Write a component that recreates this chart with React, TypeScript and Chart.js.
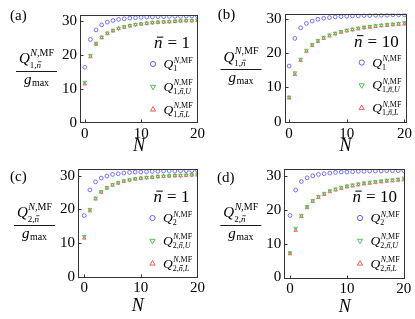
import React, { useEffect, useRef } from "react";
import { Chart, registerables } from "chart.js";

Chart.register(...registerables);

// ---------- data ----------
const N_VALUES = [0, 1, 2, 3, 4, 5, 6, 7, 8, 9, 10, 11, 12, 13, 14, 15, 16, 17, 18, 19, 20];
const X_TICKS = [0, 10, 20];
const Y_TICKS = [0, 10, 20, 30];

// (a) Q1, nbar = 1
const A_MF = [16.4, 24.6, 27.4, 28.9, 29.7, 30.2, 30.5, 30.7, 30.9, 31.0, 31.1, 31.2, 31.2, 31.3, 31.3, 31.4, 31.4, 31.4, 31.5, 31.5, 31.5];
const A_U = [12.0, 19.9, 23.5, 25.3, 26.5, 27.3, 27.9, 28.4, 28.7, 29.0, 29.2, 29.4, 29.6, 29.7, 29.8, 29.9, 30.0, 30.1, 30.2, 30.2, 30.3];
const A_L = [11.5, 19.5, 23.2, 25.1, 26.3, 27.1, 27.8, 28.2, 28.6, 28.9, 29.1, 29.3, 29.5, 29.6, 29.7, 29.8, 29.9, 30.0, 30.1, 30.1, 30.2];
// (b) Q1, nbar = 10
const B_MF = [16.3, 24.4, 27.5, 28.8, 29.5, 30.0, 30.3, 30.5, 30.7, 30.8, 30.9, 31.0, 31.0, 31.1, 31.1, 31.2, 31.2, 31.2, 31.3, 31.3, 31.3];
const B_U = [7.2, 14.3, 18.3, 20.9, 22.6, 23.8, 24.7, 25.4, 25.9, 26.4, 26.8, 27.1, 27.4, 27.7, 27.9, 28.1, 28.3, 28.5, 28.6, 28.8, 29.0];
const B_L = [6.9, 13.8, 17.9, 20.6, 22.3, 23.5, 24.4, 25.1, 25.7, 26.2, 26.6, 26.9, 27.2, 27.5, 27.7, 27.9, 28.1, 28.2, 28.4, 28.5, 28.6];
// (c) Q2, nbar = 1
const C_MF = [18.2, 25.8, 28.2, 29.3, 29.9, 30.4, 30.6, 30.8, 31.0, 31.1, 31.1, 31.2, 31.3, 31.3, 31.4, 31.4, 31.4, 31.5, 31.5, 31.5, 31.5];
const C_U = [12.0, 20.0, 23.4, 25.3, 26.5, 27.4, 28.0, 28.5, 28.8, 29.1, 29.3, 29.5, 29.6, 29.8, 29.9, 30.0, 30.1, 30.1, 30.2, 30.3, 30.3];
const C_L = [11.5, 19.6, 23.1, 25.1, 26.3, 27.2, 27.8, 28.3, 28.7, 29.0, 29.2, 29.4, 29.5, 29.7, 29.8, 29.9, 30.0, 30.0, 30.1, 30.2, 30.2];
// (d) Q2, nbar = 10
const D_MF = [18.3, 25.8, 28.3, 29.4, 30.0, 30.4, 30.6, 30.8, 31.0, 31.1, 31.1, 31.2, 31.3, 31.3, 31.4, 31.4, 31.4, 31.5, 31.5, 31.5, 31.5];
const D_U = [7.3, 14.5, 18.3, 20.9, 22.7, 23.9, 24.8, 25.6, 26.1, 26.6, 27.0, 27.3, 27.6, 27.9, 28.1, 28.3, 28.5, 28.7, 28.8, 29.0, 29.3];
const D_L = [7.0, 13.9, 18.0, 20.6, 22.4, 23.6, 24.5, 25.3, 25.8, 26.3, 26.7, 27.0, 27.3, 27.6, 27.8, 28.0, 28.2, 28.4, 28.5, 28.7, 28.8];

const BLUE = "#5252f2";
const GREEN = "#3dba3d";
const RED = "#f24c4c";
const FONT = '"Liberation Serif", "Times New Roman", serif';
const Y_AXIS_W = 30;
const X_AXIS_H = 20;

type Part = { t: string; i?: boolean; bar?: boolean };

type PanelDef = {
  key: string;
  tag: string;
  qi: string;
  nbar: string;
  mf: number[];
  upper: number[];
  lower: number[];
  box: { left: number; top: number; width: number; height: number };
  area: { left: number; top: number; right: number; bottom: number };
  xr: [number, number];
  yr: [number, number];
  tagPos: [number, number];
  nTitleOffset: number;
};

const PANELS: PanelDef[] = [
  {
    key: "a", tag: "(a)", qi: "1", nbar: "1", mf: A_MF, upper: A_U, lower: A_L,
    box: { left: 0, top: 0, width: 207, height: 157 },
    area: { left: 80, top: 15, right: 8, bottom: 34 },
    xr: [-0.85, 20.1], yr: [0, 31.8], tagPos: [10, 16], nTitleOffset: 23.5,
  },
  {
    key: "b", tag: "(b)", qi: "1", nbar: "10", mf: B_MF, upper: B_U, lower: B_L,
    box: { left: 205, top: 0, width: 210, height: 157 },
    area: { left: 79.5, top: 13.5, right: 8.3, bottom: 33.7 },
    xr: [-0.8, 20.4], yr: [-0.5, 31.7], tagPos: [12.7, 15], nTitleOffset: 23,
  },
  {
    key: "c", tag: "(c)", qi: "2", nbar: "1", mf: C_MF, upper: C_U, lower: C_L,
    box: { left: 0, top: 155, width: 207, height: 164 },
    area: { left: 78, top: 14, right: 8, bottom: 41.5 },
    xr: [-1.1, 20.0], yr: [-0.15, 32.0], tagPos: [10, 22.5], nTitleOffset: 29,
  },
  {
    key: "d", tag: "(d)", qi: "2", nbar: "10", mf: D_MF, upper: D_U, lower: D_L,
    box: { left: 205, top: 155, width: 210, height: 164 },
    area: { left: 79.3, top: 14, right: 10, bottom: 40.5 },
    xr: [-1.0, 20.2], yr: [-0.3, 32.0], tagPos: [12, 23.3], nTitleOffset: 28.5,
  },
];

function setFont(ctx: CanvasRenderingContext2D, size: number, italic?: boolean) {
  ctx.font = `${italic ? "italic " : ""}${size}px ${FONT}`;
}

function runWidth(ctx: CanvasRenderingContext2D, size: number, parts: Part[]) {
  let w = 0;
  for (const p of parts) {
    setFont(ctx, size, p.i);
    w += ctx.measureText(p.t).width;
  }
  return w;
}

function drawRun(ctx: CanvasRenderingContext2D, x: number, y: number, size: number, parts: Part[]) {
  let cx = x;
  ctx.textAlign = "left";
  ctx.textBaseline = "alphabetic";
  for (const p of parts) {
    setFont(ctx, size, p.i);
    const w = ctx.measureText(p.t).width;
    ctx.fillText(p.t, cx, y);
    if (p.bar) {
      const by = y - size * 0.64;
      ctx.save();
      ctx.lineWidth = Math.max(0.7, size * 0.06);
      ctx.strokeStyle = "#000";
      ctx.beginPath();
      ctx.moveTo(cx + w * 0.22 + size * 0.06, by);
      ctx.lineTo(cx + w * 0.98 + size * 0.06, by);
      ctx.stroke();
      ctx.restore();
    }
    cx += w;
  }
  return cx - x;
}

function drawMarker(ctx: CanvasRenderingContext2D, kind: string, x: number, y: number, r: number, color: string) {
  ctx.save();
  ctx.strokeStyle = color;
  ctx.lineWidth = 0.9;
  ctx.beginPath();
  if (kind === "circle") {
    ctx.arc(x, y, r, 0, Math.PI * 2);
  } else {
    const s = kind === "up" ? 1 : -1;
    ctx.moveTo(x, y - s * r);
    ctx.lineTo(x + r * 0.866, y + s * r * 0.5);
    ctx.lineTo(x - r * 0.866, y + s * r * 0.5);
    ctx.closePath();
  }
  ctx.stroke();
  ctx.restore();
}

function makeOverlay(p: PanelDef) {
  return {
    id: "overlay_" + p.key,
    afterDraw(chart: any) {
      const ctx: CanvasRenderingContext2D = chart.ctx;
      const a = chart.chartArea;
      const xs = chart.scales.x;
      const ys = chart.scales.y;
      ctx.save();
      ctx.fillStyle = "#000";

      // frame
      const L = Math.round(a.left) + 0.5;
      const R = Math.round(a.right) - 0.5;
      const T = Math.round(a.top) + 0.5;
      const B = Math.round(a.bottom) - 0.5;
      ctx.strokeStyle = "#333";
      ctx.lineWidth = 1;
      ctx.strokeRect(L, T, R - L, B - T);
      // inward ticks
      ctx.beginPath();
      Y_TICKS.forEach((v) => {
        const y = Math.round(ys.getPixelForValue(v)) + 0.5;
        if (y > T + 1 && y < B - 1) {
          ctx.moveTo(L, y);
          ctx.lineTo(L + 3, y);
        }
      });
      X_TICKS.forEach((v) => {
        const x = Math.round(xs.getPixelForValue(v)) + 0.5;
        if (x > L + 1 && x < R - 1) {
          ctx.moveTo(x, B);
          ctx.lineTo(x, B - 3);
        }
      });
      ctx.stroke();

      // panel tag
      setFont(ctx, 15, false);
      ctx.textAlign = "left";
      ctx.textBaseline = "middle";
      ctx.fillText(p.tag, p.tagPos[0], p.tagPos[1]);

      // x title
      setFont(ctx, 18, true);
      ctx.textAlign = "center";
      ctx.textBaseline = "middle";
      ctx.fillText("N", (a.left + a.right) / 2, a.bottom + p.nTitleOffset);

      // y title fraction
      const cx = a.left - 43.5;
      const lineY = Math.round(a.top + 55.5) + 0.5;
      ctx.strokeStyle = "#000";
      ctx.lineWidth = 0.9;
      ctx.beginPath();
      ctx.moveTo(a.left - 64, lineY);
      ctx.lineTo(a.left - 23, lineY);
      ctx.stroke();
      const supParts: Part[] = [{ t: "N", i: true }, { t: ",MF" }];
      const subParts: Part[] = [{ t: p.qi + "," }, { t: "n", i: true, bar: true }];
      setFont(ctx, 15, true);
      const wQ = ctx.measureText("Q").width;
      const wSup = runWidth(ctx, 10, supParts);
      const numW = wQ + wSup + 0.5;
      const qx = cx - numW / 2;
      drawRun(ctx, qx, a.top + 48.3, 15, [{ t: "Q", i: true }]);
      drawRun(ctx, qx + wQ + 0.5, a.top + 40.5, 10, supParts);
      drawRun(ctx, qx + wQ, a.top + 52.5, 9, subParts);
      setFont(ctx, 15, true);
      const wg = ctx.measureText("g").width;
      const wmax = runWidth(ctx, 10, [{ t: "max" }]);
      const gx = cx - (wg + wmax + 0.5) / 2;
      drawRun(ctx, gx, a.top + 68.5, 15, [{ t: "g", i: true }]);
      drawRun(ctx, gx + wg + 0.5, a.top + 70.5, 10, [{ t: "max" }]);

      // nbar label
      const nbY = a.top + 33;
      const rightEdge = a.right - 8;
      setFont(ctx, 17, false);
      const wNum = ctx.measureText(p.nbar).width;
      const wEq = ctx.measureText("=").width;
      setFont(ctx, 17, true);
      const wn = ctx.measureText("n").width;
      const numX = rightEdge - wNum;
      const eqX = numX - 4.5 - wEq;
      const nX = eqX - 5 - wn;
      drawRun(ctx, nX, nbY, 17, [{ t: "n", i: true, bar: true }]);
      drawRun(ctx, eqX, nbY, 17, [{ t: "=" }]);
      drawRun(ctx, numX, nbY, 17, [{ t: p.nbar }]);

      // legend
      const mx = a.right - 45;
      const rows: { kind: string; color: string; sub: Part[] }[] = [
        { kind: "circle", color: BLUE, sub: [{ t: p.qi }] },
        { kind: "down", color: GREEN, sub: [{ t: p.qi + "," }, { t: "n", i: true, bar: true }, { t: "," }, { t: "U", i: true }] },
        { kind: "up", color: RED, sub: [{ t: p.qi + "," }, { t: "n", i: true, bar: true }, { t: "," }, { t: "L", i: true }] },
      ];
      rows.forEach((row, i) => {
        const my = a.top + 49 + i * 22.8;
        drawMarker(ctx, row.kind, mx, my, row.kind === "circle" ? 2.6 : 3, row.color);
        const tx = mx + 10.5;
        setFont(ctx, 13.5, true);
        const wq = ctx.measureText("Q").width;
        drawRun(ctx, tx, my + 4, 13.5, [{ t: "Q", i: true }]);
        drawRun(ctx, tx + wq + 0.5, my - 1.5, 8, supParts);
        drawRun(ctx, tx + wq, my + 7, 8, row.sub);
      });

      ctx.restore();
    },
  };
}

function Panel({ p }: { p: PanelDef }) {
  const ref = useRef<HTMLCanvasElement | null>(null);
  useEffect(() => {
    if (!ref.current) return;
    const toPts = (arr: number[]) => N_VALUES.map((n, i) => ({ x: n, y: arr[i] }));
    const tickFont = { family: FONT, size: 15 };
    const pad = {
      left: p.area.left - Y_AXIS_W,
      top: p.area.top,
      right: p.area.right,
      bottom: p.area.bottom - X_AXIS_H,
    };
    const chart = new Chart(ref.current, {
      type: "scatter",
      data: {
        datasets: [
          {
            data: toPts(p.mf),
            pointStyle: "circle",
            pointRadius: 1.9,
            borderColor: BLUE,
            backgroundColor: "rgba(0,0,0,0)",
            borderWidth: 0.8,
          },
          {
            data: toPts(p.upper),
            pointStyle: "triangle",
            rotation: 180,
            pointRadius: 2.1,
            borderColor: GREEN,
            backgroundColor: "rgba(0,0,0,0)",
            borderWidth: 0.8,
          },
          {
            data: toPts(p.lower),
            pointStyle: "triangle",
            pointRadius: 2.1,
            borderColor: RED,
            backgroundColor: "rgba(0,0,0,0)",
            borderWidth: 0.8,
          },
        ],
      } as any,
      options: {
        responsive: false,
        animation: false,
        devicePixelRatio: 1,
        layout: { padding: pad },
        plugins: { legend: { display: false }, tooltip: { enabled: false } },
        events: [],
        scales: {
          x: {
            type: "linear",
            min: p.xr[0],
            max: p.xr[1],
            grid: { display: false, drawTicks: false },
            border: { display: false },
            ticks: { font: tickFont, color: "#000", padding: 2, maxRotation: 0, autoSkip: false },
            afterBuildTicks: (s: any) => {
              s.ticks = X_TICKS.map((v) => ({ value: v }));
            },
            afterFit: (s: any) => {
              s.height = X_AXIS_H;
            },
          },
          y: {
            type: "linear",
            min: p.yr[0],
            max: p.yr[1],
            grid: { display: false, drawTicks: false },
            border: { display: false },
            ticks: { font: tickFont, color: "#000", padding: 3, autoSkip: false },
            afterBuildTicks: (s: any) => {
              s.ticks = Y_TICKS.map((v) => ({ value: v }));
            },
            afterFit: (s: any) => {
              s.width = Y_AXIS_W;
            },
          },
        },
      } as any,
      plugins: [makeOverlay(p)],
    });
    return () => chart.destroy();
  }, [p]);
  return (
    <canvas
      ref={ref}
      width={p.box.width}
      height={p.box.height}
      style={{ position: "absolute", left: p.box.left, top: p.box.top, width: p.box.width, height: p.box.height }}
    />
  );
}

export default function App() {
  return (
    <div style={{ position: "fixed", left: 0, top: 0, width: 415, height: 319, background: "#fff", overflow: "hidden" }}>
      {PANELS.map((p) => (
        <Panel key={p.key} p={p} />
      ))}
    </div>
  );
}
